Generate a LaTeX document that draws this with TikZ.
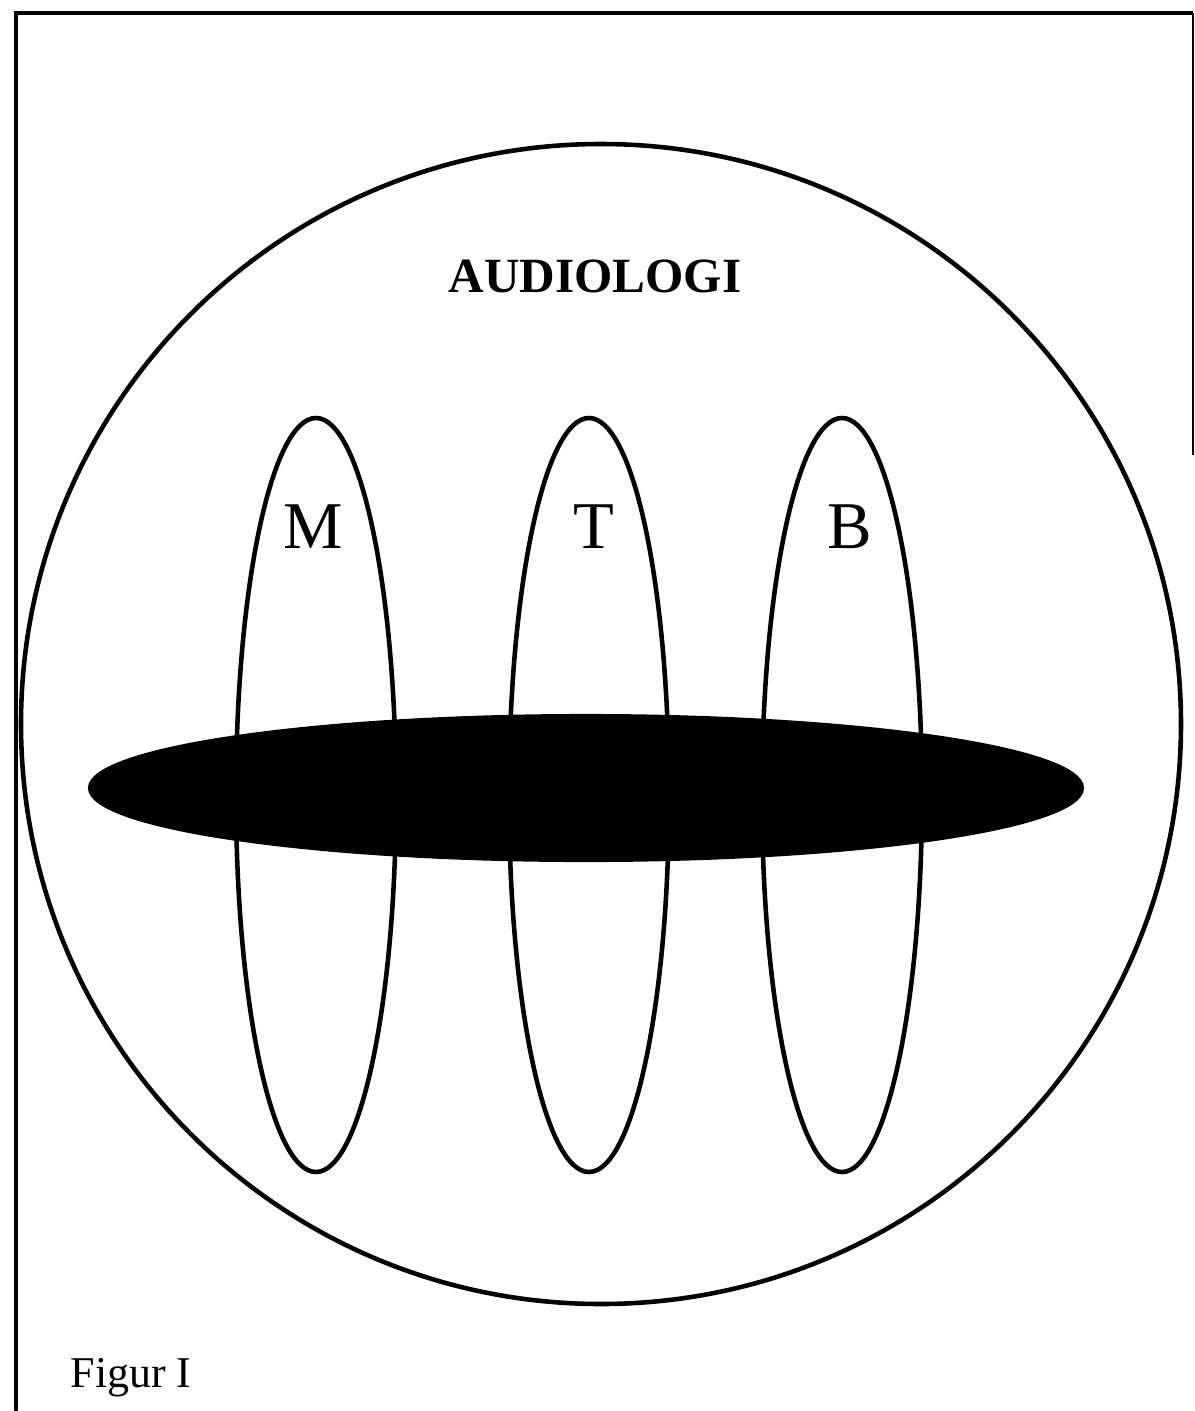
\documentclass[tikz,border=0pt]{standalone}
\usepackage{fontspec}
\setmainfont{Liberation Serif}
\usepackage{tikz}
\usetikzlibrary{positioning}

\tikzset{
  frameline/.style={line width=1.4pt},
  ring/.style={line width=1.3pt},
  band/.style={fill=black, draw=black, line width=0.6pt},
  letter/.style={font=\fontsize{19}{22}\selectfont, inner sep=0pt}
}

\begin{document}
\begin{tikzpicture}[x=0.01cm, y=-0.01cm]
  \useasboundingbox (0,0) rectangle (1195,1411);

  % Frame
  \draw[frameline] (16,1411) -- (16,13) -- (1193,13);
  \draw[line width=0.5pt] (1193,13) -- (1193,455);

  % Outer circle
  \draw[ring] (601,724) circle [radius=580];
  \node[font=\fontsize{14}{17}\selectfont\bfseries, inner sep=0pt] (audiologi) at (595,276) {AUDIOLOGI};

  % Three fields
  \foreach \cx/\lx/\lab/\nm in {316/313/M/fieldM, 589/594/T/fieldT, 842/850/B/fieldB} {
    \draw[ring] (\cx,795) ellipse [x radius=80, y radius=377];
    \node[letter] (\nm) at (\lx,527) {\lab};
  }

  % Common band
  \fill[band] (586,788) ellipse [x radius=497, y radius=73];

  \node[font=\fontsize{12.5}{15}\selectfont, anchor=base west, inner sep=0pt] (caption) at (70,1387) {Figur I};
\end{tikzpicture}
\end{document}
